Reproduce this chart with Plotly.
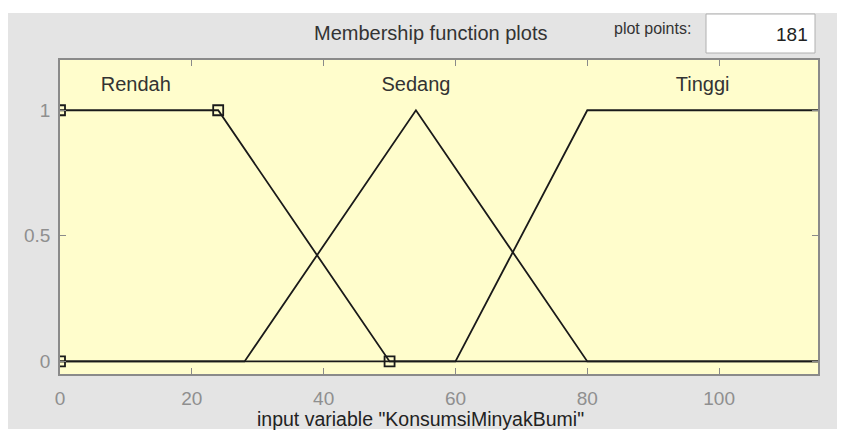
import plotly.graph_objects as go

# Membership functions for input variable "KonsumsiMinyakBumi"
mf_names = ["Rendah", "Sedang", "Tinggi"]
rendah_x = [0, 24, 50, 115]
rendah_y = [1, 1, 0, 0]
sedang_x = [0, 28, 54, 80, 115]
sedang_y = [0, 0, 1, 0, 0]
tinggi_x = [0, 60, 80, 115]
tinggi_y = [0, 0, 1, 1]
# parameter markers of selected MF (Rendah: trapmf [0 0 24 50])
marker_x = [0, 0, 24, 50]
marker_y = [0, 1, 1, 0]
# label positions
label_x = [11.5, 54, 97.5]
label_y = [1.095, 1.095, 1.095]

x_ticks = [0, 20, 40, 60, 80, 100]
y_ticks = [0, 0.5, 1]
y_tick_text = ["0", "0.5", "1"]
plot_points = "181"

# page has an 8px body margin; work in page pixels and convert
OFF = 8
PW, PH = 845, 433
W, H = PW - OFF, PH - OFF
L, R, T, B = 60, 818, 60, 374  # plot area in page pixels

pw, ph = R - L, B - T
def px(xp):
    return (xp - L) / pw
def py(yp):
    return (B - yp) / ph

FONT = "Liberation Sans, Arial"

fig = go.Figure()
for xs, ys in [(rendah_x, rendah_y), (sedang_x, sedang_y), (tinggi_x, tinggi_y)]:
    fig.add_trace(go.Scatter(x=xs, y=ys, mode="lines",
                             line=dict(color="#1a1a1a", width=1.8),
                             showlegend=False, hoverinfo="skip"))
fig.add_trace(go.Scatter(x=marker_x, y=marker_y, mode="markers",
                         marker=dict(symbol="square-open", size=10,
                                     color="#1a1a1a", line=dict(width=1.8)),
                         showlegend=False, hoverinfo="skip"))
fig.add_trace(go.Scatter(x=label_x, y=label_y, mode="text", text=mf_names,
                         textfont=dict(family=FONT, size=20, color="#333333"),
                         showlegend=False, hoverinfo="skip"))

shapes = [
    # white margins (top and bottom)
    dict(type="rect", xref="paper", yref="paper", x0=px(0), x1=px(PW + 10), y0=py(-10), y1=py(13),
         fillcolor="white", line=dict(width=0), layer="above"),
    dict(type="rect", xref="paper", yref="paper", x0=px(0), x1=px(PW + 10), y0=py(429), y1=py(PH + 10),
         fillcolor="white", line=dict(width=0), layer="above"),
    # plot points box
    dict(type="rect", xref="paper", yref="paper", x0=px(706), x1=px(815), y0=py(53), y1=py(14),
         fillcolor="white", line=dict(color="#b0b0b0", width=1), layer="above"),
]

annotations = [
    dict(text="Membership function plots", xref="paper", yref="paper",
         x=px(430), y=py(33), showarrow=False, xanchor="center", yanchor="middle",
         font=dict(family=FONT, size=20, color="#333333")),
    dict(text="plot points:", xref="paper", yref="paper",
         x=px(652), y=py(29), showarrow=False, xanchor="center", yanchor="middle",
         font=dict(family=FONT, size=16, color="#333333")),
    dict(text=plot_points, xref="paper", yref="paper",
         x=px(810), y=py(35), showarrow=False, xanchor="right", yanchor="middle",
         font=dict(family=FONT, size=19, color="#222222")),
    dict(text='input variable "KonsumsiMinyakBumi"', xref="paper", yref="paper",
         x=px(420), y=py(419), showarrow=False, xanchor="center", yanchor="middle",
         font=dict(family=FONT, size=19.5, color="#222222")),
]

fig.update_layout(
    width=W, height=H,
    margin=dict(l=L - OFF, r=PW - R, t=T - OFF, b=PH - B, pad=0),
    paper_bgcolor="#e4e4e4",
    plot_bgcolor="#fffdcc",
    shapes=shapes,
    annotations=annotations,
    font=dict(family=FONT),
    xaxis=dict(range=[0, 115], tickvals=x_ticks, ticks="inside", ticklen=6,
               tickcolor="#8a8a8a", showline=True, linecolor="#8a8a8a", linewidth=1.5,
               mirror="ticks", showgrid=False, zeroline=False,
               tickfont=dict(size=19, color="#8f8f8f"), ticklabelstandoff=6),
    yaxis=dict(range=[-0.05, 1.2], tickvals=y_ticks, ticktext=y_tick_text,
               ticks="inside", ticklen=6, tickcolor="#8a8a8a", showline=True,
               linecolor="#8a8a8a", linewidth=1.5, mirror="ticks", showgrid=False,
               zeroline=False, tickfont=dict(size=19, color="#8f8f8f"),
               ticklabelstandoff=4),
)

fig.write_html("out.html")
